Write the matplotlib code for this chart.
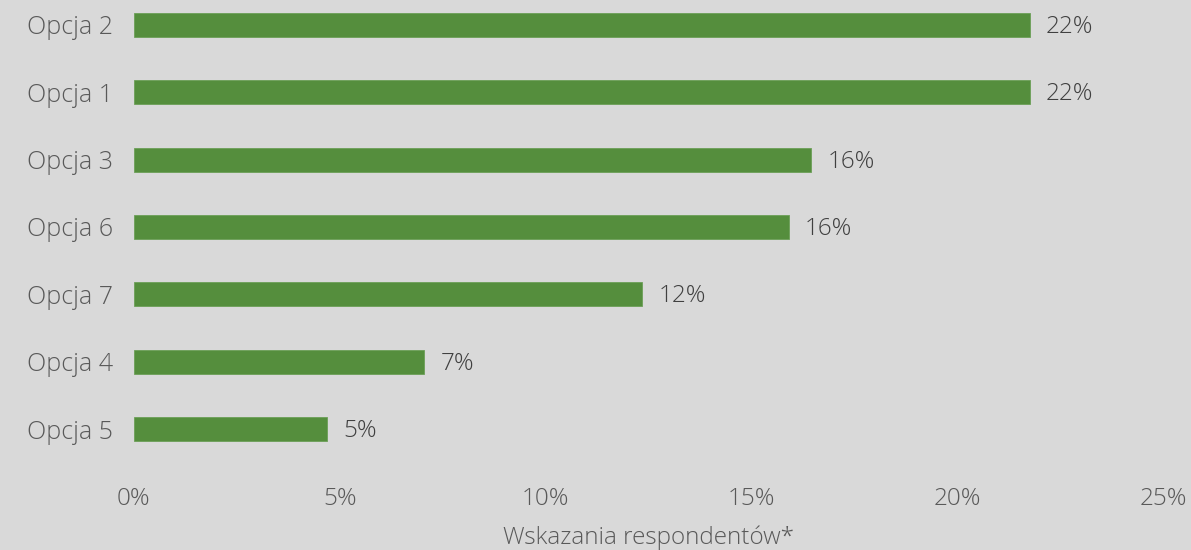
import matplotlib
matplotlib.use('Agg')
import matplotlib.pyplot as plt
from matplotlib.ticker import FuncFormatter

categories = ['Opcja 2', 'Opcja 1', 'Opcja 3', 'Opcja 6', 'Opcja 7', 'Opcja 4', 'Opcja 5']
values = [21.75, 21.75, 16.45, 15.9, 12.35, 7.05, 4.7]
labels = ['22%', '22%', '16%', '16%', '12%', '7%', '5%']
xticks = [0, 5, 10, 15, 20, 25]

bg = '#d9d9d9'
green = '#558e3d'
grey = '#595959'

plt.rcParams['font.family'] = ['Open Sans', 'DejaVu Sans']
plt.rcParams['font.weight'] = 'light'

fig = plt.figure(figsize=(11.91, 5.5), dpi=100, facecolor=bg)
ax = fig.add_axes([0.1123, 0.1545, 0.8645, 0.8455], facecolor=bg)

n = len(categories)
pos = [n - 1 - i for i in range(n)]
ax.barh(pos, values, height=0.36, color=green, edgecolor='#6c9f57', linewidth=0.6)

for p, v, lab in zip(pos, values, labels):
    ax.text(v + 0.4, p - 0.03, lab, va='center', ha='left', fontsize=17.5,
            color='#404040', fontweight='light')

ax.set_xlim(0, 25)
ax.set_ylim(-0.535, 6.371)
ax.set_yticks(pos)
ax.set_yticklabels(categories, fontsize=18, color=grey, fontweight='light')
ax.set_xticks(xticks)
ax.xaxis.set_major_formatter(FuncFormatter(lambda x, _: f'{x:.0f}%'))
ax.tick_params(axis='x', length=0, pad=16, labelsize=17.5, labelcolor=grey)
ax.tick_params(axis='y', length=0, pad=15)
for t in ax.get_xticklabels():
    t.set_fontweight('light')
ax.set_xlabel('Wskazania respondentów*', fontsize=17.5, color=grey,
              labelpad=10, fontweight='light')

for s in ax.spines.values():
    s.set_visible(False)

fig.savefig('out.png', dpi=100, facecolor=bg)
